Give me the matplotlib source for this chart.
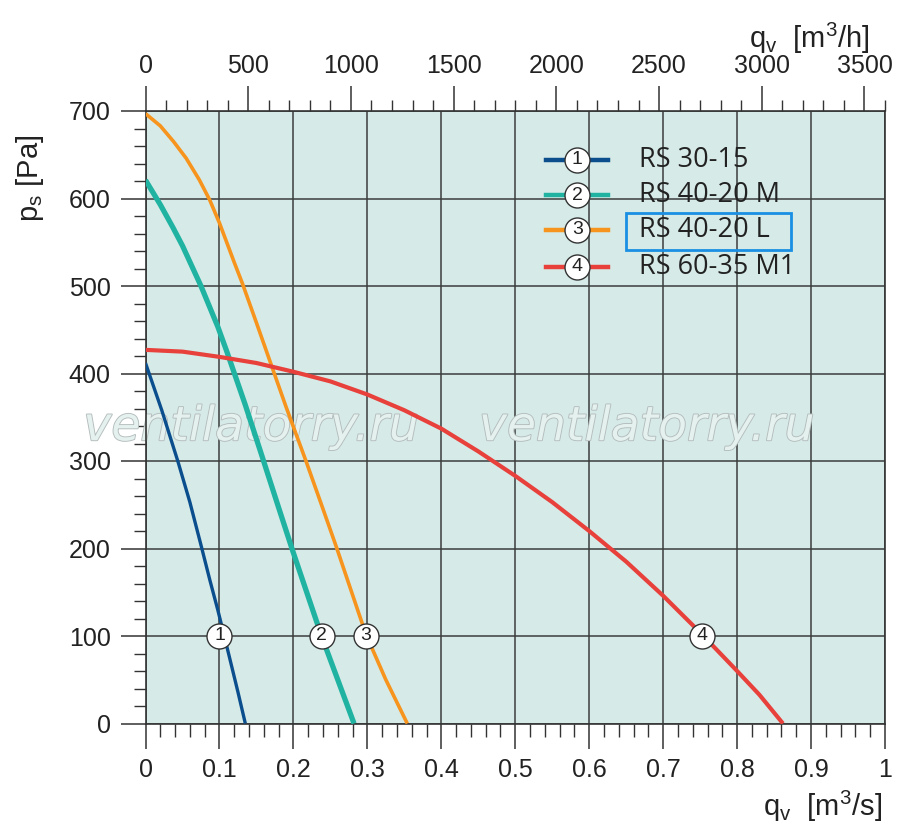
import numpy as np
import matplotlib
matplotlib.use("Agg")
import matplotlib.pyplot as plt
from matplotlib.ticker import MultipleLocator
import matplotlib.patheffects as pe

plt.rcParams['font.family'] = ['Liberation Sans', 'DejaVu Sans']
plt.rcParams['mathtext.default'] = 'regular'

# Kennlinien (qv in m3/s, ps in Pa)
q_rs3015 = [0, 0.022, 0.044, 0.06, 0.075, 0.087, 0.098, 0.112, 0.125, 0.135]
p_rs3015 = [412, 358, 299, 253, 204, 164, 129, 81, 36, 0]

q_rs4020m = [0, 0.02, 0.037, 0.05, 0.075, 0.098, 0.11, 0.135, 0.157, 0.178, 0.198, 0.218, 0.238, 0.26, 0.282]
p_rs4020m = [621, 593, 567, 546, 500, 453, 425, 364, 307, 252, 200, 150, 100, 50, 0]

q_rs4020l = [0, 0.02, 0.038, 0.055, 0.073, 0.087, 0.1, 0.12, 0.131, 0.15, 0.17, 0.19, 0.217,
             0.238, 0.258, 0.278, 0.298, 0.325, 0.354]
p_rs4020l = [697, 683, 665, 646, 621, 598, 572, 527, 503, 458, 410, 362, 300,
             250, 202, 152, 102, 50, 0]

q_rs6035 = [0, 0.05, 0.1, 0.15, 0.2, 0.25, 0.3, 0.35, 0.4, 0.45, 0.5, 0.55, 0.6, 0.65,
            0.7, 0.75, 0.8, 0.83, 0.862]
p_rs6035 = [427, 425, 419, 412, 402, 391, 376, 358, 337, 311, 283, 253, 220, 185,
            146, 104, 60, 33, 0]

namen = ['RS 30-15', 'RS 40-20 M', 'RS 40-20 L', 'RS 60-35 M1']
farben = ['#0b4e8e', '#21b3a2', '#f7941d', '#e8413c']
breiten = [2.4, 3.8, 2.6, 3.0]

# Position der Kreis-Nummern auf den Kurven
marker_q = [0.1, 0.238, 0.298, 0.753]
marker_p = [100, 100, 100, 100]

fig = plt.figure(figsize=(9, 8.31), dpi=100)
ax = fig.add_axes([145.5/900, 1-723.5/831, 739.5/900, 612.5/831])
ax.set_facecolor('#d6ebe8')

kurven = [(q_rs3015, p_rs3015), (q_rs4020m, p_rs4020m),
          (q_rs4020l, p_rs4020l), (q_rs6035, p_rs6035)]
for i, (q, p) in enumerate(kurven):
    ax.plot(q, p, color=farben[i], lw=breiten[i], solid_capstyle='butt',
            solid_joinstyle='round', zorder=3)

for i in range(4):
    ax.plot(marker_q[i], marker_p[i], 'o', ms=18, mfc='white', mec='#333333', mew=1.0, zorder=5)
    ax.text(marker_q[i], marker_p[i], str(i+1), ha='center', va='center',
            fontsize=14, color='#222222', zorder=6)

# Wasserzeichen
for xw in [0.143, 0.678]:
    ax.text(xw, 338, 'ventilatorry.ru', style='italic', fontsize=34, family='DejaVu Sans',
            ha='center', va='center', color='#e4f1ef', zorder=2.5,
            path_effects=[pe.withStroke(linewidth=1.3, foreground='#b4bcbc')])

# Legende
leg_y = [644, 604, 564, 522]
for i in range(4):
    ax.plot([0.541, 0.625], [leg_y[i], leg_y[i]], color=farben[i], lw=3.2, zorder=4)
    ax.plot(0.584, leg_y[i], 'o', ms=18, mfc='white', mec='#333333', mew=1.0, zorder=5)
    ax.text(0.584, leg_y[i], str(i+1), ha='center', va='center', fontsize=14,
            color='#222222', zorder=6)
    ax.text(0.668, leg_y[i], namen[i], ha='left', va='center', fontsize=19.5,
            family=['Open Sans', 'DejaVu Sans'], color='#222222', zorder=6)
ax.add_patch(plt.Rectangle((0.650, 541), 0.2235, 43, fill=False, ec='#1a8fe3', lw=2.0, zorder=6))

ax.set_xlim(0, 1)
ax.set_ylim(0, 700)
ax.xaxis.set_minor_locator(MultipleLocator(0.02))
ax.yaxis.set_major_locator(MultipleLocator(100))
ax.yaxis.set_minor_locator(MultipleLocator(20))
xt = np.arange(0, 1.01, 0.1)
ax.set_xticks(xt)
ax.set_xticklabels(['0'] + ['%.1f' % v for v in xt[1:-1]] + ['1'])
ax.grid(True, which='major', color='#3c3c3c', lw=1.1, zorder=1)
ax.set_axisbelow(True)
ax.tick_params(which='major', direction='out', length=18, width=1.1, color='#333333',
               labelsize=18, pad=7, labelcolor='#222222')
ax.tick_params(which='minor', direction='out', length=9, width=1.0, color='#333333')
for s in ax.spines.values():
    s.set_color('#333333')
    s.set_linewidth(1.2)

oben = ax.secondary_xaxis('top', functions=(lambda x: x*3600, lambda x: x/3600))
oben.set_xticks(range(0, 3501, 500))
oben.xaxis.set_minor_locator(MultipleLocator(100))
oben.tick_params(which='major', direction='out', length=18, width=1.1, color='#333333',
                 labelsize=18, pad=6, labelcolor='#222222')
oben.tick_params(which='minor', direction='out', length=8, width=1.0, color='#333333')
oben.spines['top'].set_visible(False)

fig.text(30/900, 1-178/831, 'p$_s$ [Pa]', rotation=90, ha='center', va='center', fontsize=21, color='#222222')
fig.text(882/900, 1-806/831, 'q$_v$  [m$^3$/s]', ha='right', va='center', fontsize=21, color='#222222')
fig.text(870/900, 1-38/831, 'q$_v$  [m$^3$/h]', ha='right', va='center', fontsize=21, color='#222222')

fig.savefig('out.png', dpi=100, facecolor='white')
